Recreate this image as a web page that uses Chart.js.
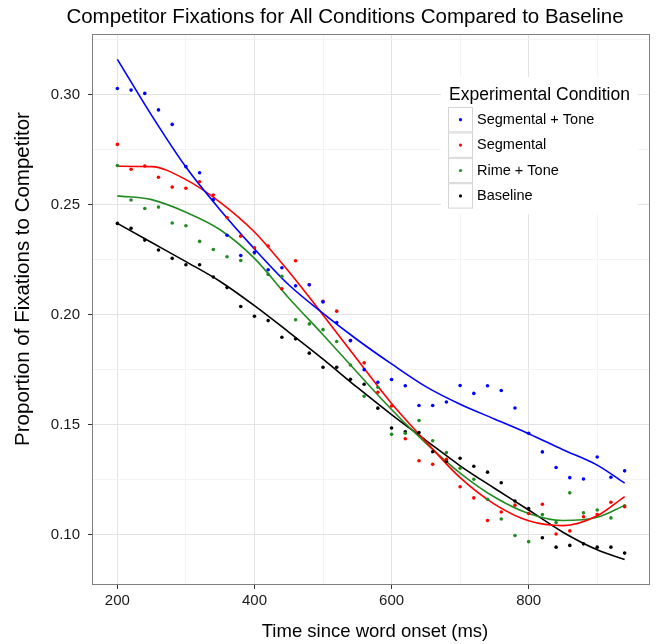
<!DOCTYPE html>
<html>
<head>
<meta charset="utf-8">
<title>Competitor Fixations</title>
<script src="https://cdn.jsdelivr.net/npm/chart.js@4.4.1/dist/chart.umd.min.js"></script>
<style>
  html, body { margin: 0; padding: 0; background: #fff; }
  #wrap { width: 664px; height: 644px; }
</style>
</head>
<body>
<div id="wrap"><canvas id="chart" width="664" height="644"></canvas></div>
<script>
// Temps (ms) des points observés
const times = [200, 220, 240, 260, 280, 300, 320, 340, 360, 380, 400, 420, 440, 460, 480, 500,
    520, 540, 560, 580, 600, 620, 640, 660, 680, 700, 720, 740, 760, 780, 800, 820, 840, 860,
    880, 900, 920, 940];

// Proportions observées par condition
const segTone = [0.3027, 0.3020, 0.3005, 0.2930, 0.2864, 0.2672, 0.2644, 0.2522, 0.2360, 0.2268,
    0.2283, 0.2203, 0.2212, 0.2130, 0.2135, 0.2057, 0.1963, 0.1881, 0.1749, 0.1692,
    0.1704, 0.1676, 0.1586, 0.1586, 0.1602, 0.1677, 0.1641, 0.1676, 0.1654, 0.1575,
    0.1460, 0.1375, 0.1304, 0.1258, 0.1252, 0.1352, 0.1260, 0.1289];
const segmental = [0.2773, 0.2660, 0.2675, 0.2624, 0.2579, 0.2574, 0.2603, 0.2543, 0.2441, 0.2356,
    0.2303, 0.2311, 0.2117, 0.2244, 0.2135, 0.2060, 0.2015, 0.1881, 0.1780, 0.1646,
    0.1584, 0.1435, 0.1335, 0.1319, 0.1342, 0.1217, 0.1166, 0.1063, 0.1102, 0.1133,
    0.1095, 0.1137, 0.1002, 0.1016, 0.1080, 0.1090, 0.1146, 0.1126];
const rimeTone = [0.2677, 0.2520, 0.2482, 0.2488, 0.2416, 0.2403, 0.2332, 0.2295, 0.2262, 0.2245,
    0.2279, 0.2182, 0.2174, 0.1976, 0.1957, 0.1931, 0.1877, 0.1770, 0.1628, 0.1669,
    0.1455, 0.1460, 0.1518, 0.1426, 0.1372, 0.1301, 0.1251, 0.1160, 0.1070, 0.0995,
    0.0967, 0.1090, 0.1054, 0.1189, 0.1098, 0.1111, 0.1075, 0.1130];
const baseline = [0.2414, 0.2392, 0.2338, 0.2293, 0.2255, 0.2226, 0.2226, 0.2170, 0.2122, 0.2036,
    0.1992, 0.1972, 0.1896, 0.1889, 0.1824, 0.1760, 0.1760, 0.1705, 0.1683, 0.1574,
    0.1484, 0.1467, 0.1463, 0.1376, 0.1333, 0.1346, 0.1310, 0.1283, 0.1235, 0.1152,
    0.1117, 0.0985, 0.0942, 0.0950, 0.0957, 0.0942, 0.0942, 0.0915];

// Courbes ajustées
const fitTimes = [200, 250, 300, 350, 400, 450, 500, 550, 600, 650, 700, 750, 800, 850, 900, 940];
const fitSegTone = [0.3160, 0.2905, 0.2670, 0.2475, 0.2298, 0.2135, 0.2005, 0.1885, 0.1775, 0.1672,
    0.1592, 0.1525, 0.1458, 0.1385, 0.1315, 0.1233];
const fitSegmental = [0.2674, 0.2672, 0.2613, 0.2510, 0.2375, 0.2195, 0.1998, 0.1795, 0.1595, 0.1422,
    0.1258, 0.1138, 0.1062, 0.1040, 0.1085, 0.1172];
const fitRimeTone = [0.2539, 0.2522, 0.2465, 0.2385, 0.2255, 0.2075, 0.1908, 0.1736, 0.1568, 0.1415,
    0.1279, 0.1170, 0.1095, 0.1063, 0.1078, 0.1132];
const fitBaseline = [0.2414, 0.2327, 0.2240, 0.2150, 0.2040, 0.1920, 0.1797, 0.1668, 0.1545, 0.1428,
    0.1312, 0.1210, 0.1111, 0.1010, 0.0930, 0.0886];

// Graduations
const xMajor = [200, 400, 600, 800];
const xGrid = [200, 300, 400, 500, 600, 700, 800, 900];
const yMajor = [0.10, 0.15, 0.20, 0.25, 0.30];
const yGrid = [0.10, 0.125, 0.15, 0.175, 0.20, 0.225, 0.25, 0.275, 0.30, 0.325];

const labels = ['Segmental + Tone', 'Segmental', 'Rime + Tone', 'Baseline'];
const colors = ['#0000ff', '#ff0000', '#228b22', '#000000'];

const FONT = '"Liberation Sans", Arial, Helvetica, sans-serif';

const pts = (xs, ys) => xs.map((x, i) => ({ x: x, y: ys[i] }));

const observed = [segTone, segmental, rimeTone, baseline];
const fitted = [fitSegTone, fitSegmental, fitRimeTone, fitBaseline];

const datasets = [];
observed.forEach((serie, i) => {
    datasets.push({
        type: 'scatter',
        label: labels[i],
        data: pts(times, serie),
        backgroundColor: colors[i],
        borderWidth: 0,
        pointRadius: 1.8
    });
});
fitted.forEach((serie, i) => {
    datasets.push({
        type: 'line',
        label: labels[i] + ' (fit)',
        data: pts(fitTimes, serie),
        borderColor: colors[i],
        borderWidth: 1.6,
        pointRadius: 0,
        fill: false,
        cubicInterpolationMode: 'monotone'
    });
});

// Titres, cadre et légende
const decor = {
    id: 'decor',
    beforeDraw(chart) {
        const ctx = chart.ctx;
        ctx.save();
        ctx.fillStyle = '#ffffff';
        ctx.fillRect(0, 0, chart.width, chart.height);
        ctx.restore();
    },
    afterDatasetsDraw(chart) {
        const ctx = chart.ctx;
        const a = chart.chartArea;
        ctx.save();
        ctx.strokeStyle = '#7f7f7f';
        ctx.lineWidth = 1;
        ctx.strokeRect(a.left + 0.5, a.top + 0.5, a.right - a.left - 1, a.bottom - a.top - 1);

        // légende
        ctx.fillStyle = '#ffffff';
        ctx.fillRect(441, 77, 197, 137);
        ctx.fillStyle = '#000000';
        ctx.font = '17.5px ' + FONT;
        ctx.textAlign = 'left';
        ctx.textBaseline = 'alphabetic';
        ctx.fillText('Experimental Condition', 449, 100);
        ctx.font = '14.5px ' + FONT;
        ctx.textBaseline = 'middle';
        for (let i = 0; i < 4; i++) {
            const ds = chart.data.datasets[i];
            const y0 = 107 + i * 25.4;
            ctx.fillStyle = '#ffffff';
            ctx.fillRect(448, y0, 25, 25.4);
            ctx.strokeStyle = '#d4d4d4';
            ctx.strokeRect(448.5, y0 + 0.5, 24, 24.4);
            ctx.fillStyle = ds.backgroundColor;
            ctx.beginPath();
            ctx.arc(460.5, y0 + 12.7, 1.6, 0, Math.PI * 2);
            ctx.fill();
            ctx.fillStyle = '#000000';
            ctx.fillText(ds.label, 477, y0 + 13);
        }
        ctx.restore();
    },
    afterDraw(chart) {
        const ctx = chart.ctx;
        ctx.save();
        ctx.fillStyle = '#000000';
        ctx.textAlign = 'center';
        ctx.textBaseline = 'alphabetic';
        ctx.font = '20.5px ' + FONT;
        ctx.fillText('Competitor Fixations for All Conditions Compared to Baseline', 345, 23);
        ctx.font = '18.5px ' + FONT;
        ctx.fillText('Time since word onset (ms)', 375, 637);
        ctx.font = '20.5px ' + FONT;
        ctx.translate(29, 279);
        ctx.rotate(-Math.PI / 2);
        ctx.fillText('Proportion of Fixations to Competitor', 0, 0);
        ctx.restore();
    }
};

const chart = new Chart(document.getElementById('chart').getContext('2d'), {
    type: 'scatter',
    data: { datasets: datasets },
    plugins: [decor],
    options: {
        responsive: false,
        animation: false,
        events: [],
        devicePixelRatio: 1,
        layout: { padding: { left: 0, right: 14, top: 34, bottom: 0 } },
        plugins: {
            legend: { display: false },
            tooltip: { enabled: false },
            title: { display: false }
        },
        scales: {
            x: {
                type: 'linear',
                min: 163,
                max: 977,
                afterBuildTicks: s => { s.ticks = xGrid.map(v => ({ value: v })); },
                afterFit: s => { s.height = 59; },
                border: { display: false },
                grid: {
                    color: c => xMajor.includes(c.tick.value) ? '#e3e3e3' : '#f3f3f3',
                    lineWidth: 1,
                    tickLength: 4,
                    tickColor: c => xMajor.includes(c.tick.value) ? '#333333' : 'rgba(0,0,0,0)'
                },
                ticks: {
                    autoSkip: false,
                    maxRotation: 0,
                    padding: 3,
                    color: '#1a1a1a',
                    font: { family: FONT, size: 15 },
                    callback: v => xMajor.includes(v) ? String(v) : ''
                }
            },
            y: {
                type: 'linear',
                min: 0.077,
                max: 0.3275,
                afterBuildTicks: s => { s.ticks = yGrid.map(v => ({ value: v })); },
                afterFit: s => { s.width = 92; },
                border: { display: false },
                grid: {
                    color: c => yMajor.includes(c.tick.value) ? '#e3e3e3' : '#f3f3f3',
                    lineWidth: 1,
                    tickLength: 4,
                    tickColor: c => yMajor.includes(c.tick.value) ? '#333333' : 'rgba(0,0,0,0)'
                },
                ticks: {
                    autoSkip: false,
                    padding: 8,
                    color: '#1a1a1a',
                    font: { family: FONT, size: 15 },
                    callback: v => yMajor.includes(v) ? v.toFixed(2) : ''
                }
            }
        }
    }
});
</script>
</body>
</html>
